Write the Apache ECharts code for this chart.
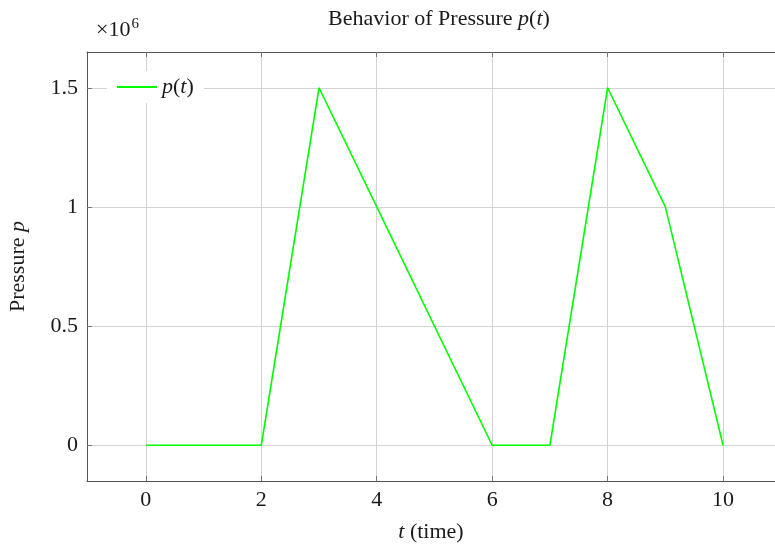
<!DOCTYPE html>
<html>
<head>
<meta charset="utf-8">
<script src="https://cdn.jsdelivr.net/npm/echarts@6/dist/echarts.min.js"></script>
<style>html,body{margin:0;padding:0;background:#fff;}#c{width:775px;height:549px;}</style>
</head>
<body>
<div id="c"></div>
<script>
var tValues = [0, 2, 3, 4, 6, 7, 8, 9, 10];
var pValues = [0, 0, 1.5e6, 1.0e6, 0, 0, 1.5e6, 1.0e6, 0];
var xTicks = [0, 2, 4, 6, 8, 10];
var yTicks = [0, 0.5e6, 1.0e6, 1.5e6];
var yTickLabels = ['0', '0.5', '1', '1.5'];

var FONT = '"Liberation Serif", "DejaVu Serif", serif';
var FS = 22;
var chart = echarts.init(document.getElementById('c'));
var data = tValues.map(function (t, i) { return [t, pValues[i]]; });
var ital = { fontStyle: 'italic', fontFamily: FONT, fontSize: FS, color: '#1a1a1a' };

chart.setOption({
  animation: false,
  backgroundColor: '#fff',
  title: {
    text: 'Behavior of Pressure {i|p}({i|t})',
    left: 434, textAlign: 'center', top: 3,
    textStyle: { fontFamily: FONT, fontSize: FS, fontWeight: 'normal', color: '#1a1a1a',
      rich: { i: ital } }
  },
  grid: { left: 87, top: 52, right: 0, bottom: 68, show: false, containLabel: false, outerBoundsMode: 'none' },
  legend: {
    left: 107, top: 71, padding: [5, 10, 5, 10],
    backgroundColor: '#fff',
    itemWidth: 40, itemHeight: 2, itemGap: 6,
    icon: 'rect',
    formatter: function () { return '{i|p}({i|t})'; },
    textStyle: { fontFamily: FONT, fontSize: FS, color: '#1a1a1a', rich: { i: ital } },
    data: [{ name: 'p(t)', icon: 'rect' }]
  },
  xAxis: [{
    type: 'value', min: -1.02, max: 10.9,
    name: '{i|t} (time)', nameLocation: 'middle', nameGap: 40,
    nameTextStyle: { fontFamily: FONT, fontSize: FS, color: '#1a1a1a', rich: { i: ital } },
    axisLine: { show: true, onZero: false, lineStyle: { color: '#555', width: 1 } },
    axisTick: { show: true, inside: true, length: 5, customValues: xTicks, lineStyle: { color: '#777', width: 1 } },
    axisLabel: { customValues: xTicks, fontFamily: FONT, fontSize: FS, color: '#1a1a1a', margin: 8 },
    splitLine: { show: true, lineStyle: { color: '#d3d3d3', width: 1 } }
  }, {
    type: 'value', min: -1.02, max: 10.9, position: 'top',
    axisLine: { show: true, onZero: false, lineStyle: { color: '#555', width: 1 } },
    axisTick: { show: true, inside: true, length: 5, customValues: xTicks, lineStyle: { color: '#777', width: 1 } },
    axisLabel: { show: false, customValues: xTicks },
    splitLine: { show: false }
  }],
  yAxis: {
    type: 'value', min: -0.15e6, max: 1.65e6,
    name: 'Pressure {i|p}', nameLocation: 'middle', nameGap: 58, nameRotate: 90,
    nameTextStyle: { fontFamily: FONT, fontSize: FS, color: '#1a1a1a', rich: { i: ital } },
    axisLine: { show: true, onZero: false, lineStyle: { color: '#555', width: 1 } },
    axisTick: { show: true, inside: true, length: 5, customValues: yTicks, lineStyle: { color: '#777', width: 1 } },
    axisLabel: { customValues: yTicks, fontFamily: FONT, fontSize: FS, color: '#1a1a1a', margin: 9,
      formatter: function (v) { var i = yTicks.indexOf(v); return i >= 0 ? yTickLabels[i] : ''; } },
    splitLine: { show: true, lineStyle: { color: '#d3d3d3', width: 1 } }
  },
  graphic: [{
    type: 'text', left: 96, top: 17,
    style: { text: '×10{s|6}', fontFamily: FONT, fontSize: FS, fill: '#1a1a1a',
      rich: { s: { fontFamily: FONT, fontSize: 15, verticalAlign: 'top', padding: [0, 0, 12, 1] } } }
  }],
  series: [{
    name: 'p(t)', type: 'line', data: data, xAxisIndex: 0,
    showSymbol: false, symbol: 'none',
    lineStyle: { color: '#00ff00', width: 1.6 }, itemStyle: { color: '#00ff00' }
  }]
});
</script>
</body>
</html>
